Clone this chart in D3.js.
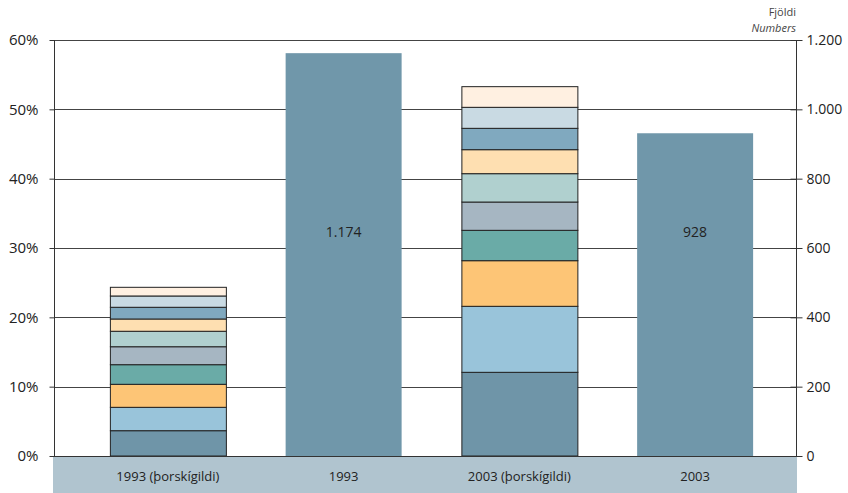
<!DOCTYPE html>
<html>
<head>
<meta charset="utf-8">
<script src="https://cdn.jsdelivr.net/npm/d3@7"></script>
<style>
  html, body { margin: 0; padding: 0; background: #fff; }
  svg { display: block; font-family: "Open Sans", "Noto Sans", sans-serif; }
</style>
</head>
<body>
<svg id="chart" width="848" height="493"></svg>
<script>
// ---- data ----
const categories = ["1993 (þorskígildi)", "1993", "2003 (þorskígildi)", "2003"];
// stacked shares (%) bottom -> top
const stack1993 = [3.65, 3.37, 3.32, 2.83, 2.59, 2.23, 1.77, 1.69, 1.63, 1.25];
const stack2003 = [12.07, 9.52, 6.58, 4.38, 4.08, 4.09, 3.46, 3.08, 3.03, 2.98];
const segmentColors = ["#6f95a8", "#99c4da", "#fdc576", "#6aaba7", "#a6b6c2",
                       "#b0d0cf", "#fedfb1", "#80a9bf", "#c9dae3", "#fff0e1"];
// single bars (height on % axis) and their number labels
const singleBars = [
  { cat: "1993", value: 58.1, label: "1.174" },
  { cat: "2003", value: 46.55, label: "928" }
];
const leftTicks = [0, 10, 20, 30, 40, 50, 60];
const rightTicks = [0, 200, 400, 600, 800, 1000, 1200];
const rightTickLabels = ["0", "200", "400", "600", "800", "1.000", "1.200"];

// ---- layout ----
const svg = d3.select("#chart");
const L = 54, R = 797, T = 40, B = 456;

const x = d3.scaleBand().domain(categories).range([80, 783])
  .paddingInner(0.34).paddingOuter(0.17);
const y = d3.scaleLinear().domain([0, 60]).range([B, T]);
const yR = d3.scaleLinear().domain([0, 1200]).range([B, T]);

// category band
svg.append("rect").attr("x", L - 1).attr("y", B).attr("width", R - L + 1).attr("height", 493 - B)
  .attr("fill", "#b0c4cf");

// gridlines
svg.append("g").selectAll("line").data(leftTicks.filter(d => d > 0)).join("line")
  .attr("x1", L).attr("x2", R)
  .attr("y1", d => Math.round(y(d)) + 0.5).attr("y2", d => Math.round(y(d)) + 0.5)
  .attr("stroke", "#444").attr("stroke-width", 1);

// stacked bars
function drawStack(vals, cat) {
  let acc = 0;
  const segs = vals.map((v, i) => { const s = { y0: acc, y1: acc + v, c: segmentColors[i] }; acc += v; return s; });
  svg.append("g").selectAll("rect").data(segs).join("rect")
    .attr("x", x(cat) + 0.5).attr("width", x.bandwidth())
    .attr("y", d => y(d.y1)).attr("height", d => y(d.y0) - y(d.y1))
    .attr("fill", d => d.c).attr("stroke", "#222").attr("stroke-width", 1);
}
drawStack(stack1993, categories[0]);
drawStack(stack2003, categories[2]);

// single bars
svg.append("g").selectAll("rect").data(singleBars).join("rect")
  .attr("x", d => x(d.cat)).attr("width", x.bandwidth())
  .attr("y", d => y(d.value)).attr("height", d => y(0) - y(d.value))
  .attr("fill", "#7097aa");
svg.append("g").selectAll("text").data(singleBars).join("text")
  .attr("x", d => x(d.cat) + x.bandwidth() / 2).attr("y", y(32) + 3)
  .attr("text-anchor", "middle").attr("font-size", 14).attr("fill", "#222")
  .text(d => d.label);

// baseline
svg.append("line").attr("x1", L).attr("x2", R).attr("y1", B + 0.5).attr("y2", B + 0.5)
  .attr("stroke", "#333").attr("stroke-width", 1.2);

// left axis
const gL = svg.append("g").attr("transform", `translate(${L + 0.5},0)`)
  .call(d3.axisLeft(y).tickValues(leftTicks).tickFormat(d => d + "%").tickSize(5).tickPadding(11));
gL.select(".domain").attr("stroke", "#333").attr("d", `M0,${T}V${B}`);
gL.selectAll(".tick line").attr("stroke", "#333");
gL.selectAll("text").attr("font-size", 15).attr("fill", "#222").attr("font-family", "Open Sans, sans-serif");

// right axis
const gR = svg.append("g").attr("transform", `translate(${R - 0.5},0)`)
  .call(d3.axisRight(yR).tickValues(rightTicks).tickFormat((d, i) => rightTickLabels[i]).tickSize(6).tickPadding(4));
gR.select(".domain").attr("stroke", "#333").attr("d", `M0,${T}V${B}`);
gR.selectAll(".tick line").attr("stroke", "#333").attr("x1", -6);
gR.selectAll("text").attr("font-size", 14).attr("fill", "#222").attr("font-family", "Open Sans, sans-serif");

// right axis title
svg.append("text").attr("x", R - 1).attr("y", 16).attr("text-anchor", "end")
  .attr("font-size", 11).attr("fill", "#444").text("Fjöldi");
svg.append("text").attr("x", R - 1).attr("y", 32).attr("text-anchor", "end")
  .attr("font-size", 11).attr("font-style", "italic").attr("fill", "#444").text("Numbers");

// category labels
svg.append("g").selectAll("text").data(categories).join("text")
  .attr("x", d => x(d) + x.bandwidth() / 2).attr("y", 481)
  .attr("text-anchor", "middle").attr("font-size", 13).attr("fill", "#222")
  .text(d => d);
</script>
</body>
</html>
